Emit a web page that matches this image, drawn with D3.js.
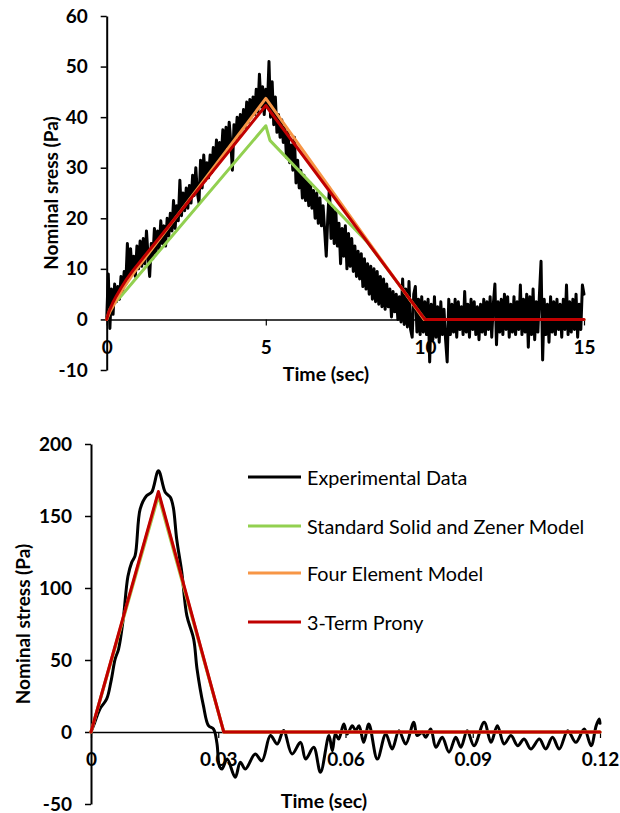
<!DOCTYPE html>
<html>
<head>
<meta charset="utf-8">
<script src="https://cdn.jsdelivr.net/npm/d3@7"></script>
<style>
  html, body { margin: 0; padding: 0; background: #fff; }
  svg { display: block; }
  text { font-family: Lato, "Open Sans", sans-serif; fill: #000; }
</style>
</head>
<body>
<svg id="chart" width="620" height="813"></svg>
<script>
// ---------- DATA ----------
// Top chart: experimental stress, sampled every 0.05 s from 0 to 15 s
const topExpStep = 0.05;
const topExpStress = [
  0, 9.0, -1.8, 6.0, 1.0, 7.0, 3.5, 6.5, 4.0, 8.5,
  5.5, 9.5, 7.0, 15.0, 8.0, 14.0, 9.0, 12.5, 8.5, 14.5,
  10.0, 15.5, 10.5, 16.0, 11.0, 17.5, 12.5, 8.5, 15.0, 12.0,
  18.0, 13.0, 17.5, 14.0, 19.5, 15.0, 18.5, 14.5, 20.0, 16.5,
  21.0, 17.5, 23.5, 18.0, 22.5, 19.5, 27.5, 20.5, 25.0, 21.5,
  26.0, 22.0, 26.5, 23.0, 28.5, 24.5, 30.0, 25.0, 23.0, 31.5,
  26.0, 32.5, 27.5, 31.0, 28.0, 32.5, 29.0, 34.0, 30.0, 35.5,
  31.0, 35.0, 32.0, 37.5, 33.0, 38.0, 34.0, 39.0, 35.0, 29.5,
  38.5, 35.5, 40.0, 36.0, 40.5, 37.5, 41.5, 38.0, 43.0, 39.0,
  43.5, 40.0, 44.0, 40.5, 45.5, 41.0, 48.5, 42.0, 46.0, 40.5,
  45.5, 42.0, 51.0, 40.0, 47.0, 38.5, 44.0, 37.0, 40.5, 36.0,
  39.5, 35.0, 38.0, 32.0, 37.0, 31.0, 34.5, 29.5, 36.0, 27.0,
  31.5, 26.0, 29.5, 24.0, 28.5, 23.5, 27.5, 22.5, 27.0, 22.0,
  25.5, 20.0, 25.0, 19.0, 24.0, 18.5, 22.5, 17.5, 12.5, 20.5,
  26.0, 16.0, 22.0, 15.0, 21.5, 14.5, 19.0, 11.0, 18.0, 12.5,
  18.5, 10.0, 17.0, 10.5, 16.0, 9.5, 14.5, 8.5, 13.5, 8.0,
  13.0, 6.5, 12.0, 6.0, 11.0, 5.0, 10.5, 4.0, 10.0, 3.5,
  9.5, 3.0, 8.5, 2.5, 8.0, 2.0, 7.0, 2.5, 6.0, 0.5,
  5.5, 1.5, 5.0, 0.0, 4.5, -0.5, 8.0, -1.0, 6.0, -1.5,
  7.5, -2.0, -3.5, 5.0, 6.5, -2.5, 4.0, -3.0, 4.5, -2.5,
  3.5, -3.0, 4.0, -8.4, 3.0, -4.0, 4.5, -3.5, 2.5, -4.5,
  3.5, -3.0, 2.0, -4.0, -8.4, 4.0, -3.0, 3.0, -2.5, 4.0,
  -3.5, 3.5, -2.0, 2.5, -3.0, 5.5, -2.5, 3.0, -3.5, 4.0,
  -2.0, 3.5, -3.0, 2.5, -4.0, 3.0, -2.5, 4.0, -3.0, 3.5,
  -2.0, 4.5, -3.5, 3.0, 7.0, -5.0, 3.5, -2.5, 4.0, -3.0,
  5.0, -2.0, 4.5, -3.5, 3.0, -2.5, 4.5, -3.0, 3.5, -2.0,
  6.8, -3.0, 4.0, -2.5, 5.0, -5.5, 4.5, -3.0, 6.0, -4.0,
  3.5, -2.5, 5.0, 11.5, -8.0, 4.0, -3.0, 3.0, -4.5, 4.5,
  -2.5, 3.5, -3.0, 4.0, -2.0, 3.0, -3.5, 4.0, -2.0, 6.8,
  -3.0, 3.5, -2.5, 4.0, -2.0, 5.0, -3.5, 3.0, -2.0, 6.8,
  5.0
];
const topSSTime      = [0, 0.1, 0.2, 0.42, 5, 5.13, 8.2, 10.0, 15];
const topSSStress    = [0, 2.0, 3.0, 4.4, 38.3, 35.4, 15.2, 0, 0];
const topFourTime    = [0, 0.1, 0.2, 0.4, 0.83, 5, 9.97, 15];
const topFourStress  = [0, 1.5, 2.6, 5.0, 9.0, 43.7, 0, 0];
const topPronyTime   = [0, 0.05, 0.1, 0.2, 0.3, 0.45, 0.6, 0.83, 5, 10.0, 15];
const topPronyStress = [0, 1.2, 2.0, 3.4, 4.6, 6.2, 7.7, 9.7, 42.3, 0, 0];
const topYTicks = [-10, 0, 10, 20, 30, 40, 50, 60];
const topXTicks = [0, 5, 10, 15];

// Bottom chart
const botExpTime = [0, 0.0008, 0.0021, 0.0037, 0.0047, 0.0057, 0.0065, 0.0076, 0.0087, 0.0096,
  0.0104, 0.0116, 0.0131, 0.0143, 0.0159, 0.0175, 0.0187, 0.0194, 0.0202, 0.0214,
  0.0226, 0.0242, 0.0250, 0.0265, 0.0277, 0.0289, 0.0297, 0.0303, 0.0309, 0.0321,
  0.0340, 0.0352, 0.0364, 0.0387, 0.0403, 0.0423, 0.0439, 0.0454, 0.0474, 0.0494,
  0.0506, 0.0525, 0.0541, 0.0561, 0.0569, 0.0576, 0.0584, 0.0596, 0.0604, 0.0616,
  0.0624, 0.0632, 0.0643, 0.0655, 0.0675, 0.0695, 0.0710, 0.0726, 0.0742, 0.0761,
  0.0769, 0.0781, 0.0789, 0.0801, 0.0813, 0.0828, 0.0844, 0.0860, 0.0872, 0.0887,
  0.0903, 0.0927, 0.0943, 0.0958, 0.0974, 0.0990, 0.1006, 0.1021, 0.1037, 0.1057,
  0.1072, 0.1088, 0.1104, 0.1124, 0.1143, 0.1163, 0.1179, 0.1191, 0.1198, 0.1200];
const botExpStress = [0, 6, 16, 23, 35, 50.7, 57.6, 78.5, 108, 117.8,
  122.5, 154.9, 164, 166.5, 181.5, 166.5, 163, 156, 134, 111,
  80.8, 64.6, 43.8, 18.3, 4.4, 2, -8, -24, -25.7, -18.8,
  -31.5, -21, -25.7, -15.3, -20, -2.5, -8.3, 1, -15.3, -7.2,
  -18.8, -10.6, -28, -2.5, -13, -1.4, -4.9, 5.5, -1.4, 4.4,
  0.9, 4.4, -7.2, 5.5, -18.8, -1.4, -11.8, 0.9, -8.3, 6.7,
  -2.5, -0.2, -3.7, 2.1, -10.6, -3.7, -14, -3.7, -10.6, 0.9,
  -9.5, 6.7, -7.2, 4.4, -8.3, -2.5, -9.5, -4.9, -11.8, -4.9,
  -11.8, -3.7, -11.8, 0.9, -7.2, 2.1, -9.5, 4.4, 9.0, 6.0];
const botSSTime      = [0, 0.0159, 0.0313, 0.12];
const botSSStress    = [0, 164, 0, 0];
const botFourTime    = [0, 0.0159, 0.0313, 0.12];
const botFourStress  = [0, 166, 0, 0];
const botPronyTime   = [0, 0.0159, 0.0313, 0.12];
const botPronyStress = [0, 167, 0, 0];
const botYTicks = [-50, 0, 50, 100, 150, 200];
const botXTicks = [0, 0.03, 0.06, 0.09, 0.12];
const botXTickLabels = ["0", "0.03", "0.06", "0.09", "0.12"];

const seriesNames = ["Experimental Data", "Standard Solid and Zener Model", "Four Element Model", "3-Term Prony"];
const seriesColors = ["#000000", "#92D050", "#F79646", "#C00000"];

// ---------- DRAW ----------
const svg = d3.select("#chart");
svg.append("rect").attr("width", 620).attr("height", 813).attr("fill", "#fff");

function zip(ts, vs) { return ts.map((t, i) => [t, vs[i]]); }

function drawChart(g, cfg) {
  const x = d3.scaleLinear().domain(cfg.xDomain).range(cfg.xRange);
  const y = d3.scaleLinear().domain(cfg.yDomain).range(cfg.yRange);

  const yAxis = d3.axisLeft(y).tickValues(cfg.yTicks).tickSize(6).tickPadding(13)
      .tickFormat(d => String(d)).tickSizeOuter(0);
  const ya = g.append("g").attr("transform", `translate(${x(0)},0)`).call(yAxis);
  ya.select(".domain").attr("stroke", "#000").attr("stroke-width", 2);
  ya.selectAll(".tick line").attr("stroke", "#000").attr("stroke-width", 1.5);
  ya.selectAll(".tick text").attr("font-size", 19).attr("font-weight", "bold").attr("font-family", "Lato").attr("fill", "#000");

  const xAxis = d3.axisBottom(x).tickValues(cfg.xTicks).tickSize(6).tickPadding(15)
      .tickFormat((d, i) => cfg.xTickLabels[i]).tickSizeOuter(0);
  const xa = g.append("g").attr("transform", `translate(0,${y(0)})`).call(xAxis);
  xa.select(".domain").attr("stroke", "#000").attr("stroke-width", 1.5);
  xa.selectAll(".tick line").attr("stroke", "#000").attr("stroke-width", 1.2);
  xa.selectAll(".tick text").attr("font-size", 19).attr("font-weight", "bold").attr("font-family", "Lato").attr("fill", "#000");

  g.append("text").attr("x", cfg.xTitle[0]).attr("y", cfg.xTitle[1]).attr("text-anchor", "middle")
    .attr("dominant-baseline", "central").attr("font-size", 19.5).attr("font-weight", "bold").text("Time (sec)");
  g.append("text").attr("transform", `translate(${cfg.yTitle[0]},${cfg.yTitle[1]}) rotate(-90)`)
    .attr("text-anchor", "middle").attr("dominant-baseline", "central")
    .attr("font-size", 19).attr("font-weight", "bold").text(cfg.yTitleText);

  const line = d3.line().x(d => x(d[0])).y(d => y(d[1]));
  cfg.series.forEach(s => {
    g.append("path")
      .attr("fill", "none").attr("stroke", s.color).attr("stroke-width", s.width)
      .attr("stroke-linejoin", "round").attr("stroke-linecap", "round")
      .attr("d", line.curve(s.curve)(s.data));
  });
}

const topExp = topExpStress.map((v, i) => [i * topExpStep, v]);

drawChart(svg.append("g"), {
  xDomain: [0, 15], xRange: [106.7, 584],
  yDomain: [-10, 60], yRange: [370, 16],
  yTicks: topYTicks, xTicks: topXTicks, xTickLabels: topXTicks.map(String),
  xTitle: [326, 373], yTitle: [50, 193], yTitleText: "Nominal sress (Pa)",
  series: [
    { data: topExp, color: seriesColors[0], width: 3, curve: d3.curveLinear },
    { data: zip(topSSTime, topSSStress), color: seriesColors[1], width: 3, curve: d3.curveLinear },
    { data: zip(topFourTime, topFourStress), color: seriesColors[2], width: 3, curve: d3.curveLinear },
    { data: zip(topPronyTime, topPronyStress), color: seriesColors[3], width: 3, curve: d3.curveLinear }
  ]
});

drawChart(svg.append("g"), {
  xDomain: [0, 0.12], xRange: [91, 600],
  yDomain: [-50, 200], yRange: [804, 444],
  yTicks: botYTicks, xTicks: botXTicks, xTickLabels: botXTickLabels,
  xTitle: [324, 800], yTitle: [22, 624], yTitleText: "Nominal stress (Pa)",
  series: [
    { data: zip(botExpTime, botExpStress), color: seriesColors[0], width: 3, curve: d3.curveCatmullRom.alpha(0.5) },
    { data: zip(botSSTime, botSSStress), color: seriesColors[1], width: 3, curve: d3.curveLinear },
    { data: zip(botFourTime, botFourStress), color: seriesColors[2], width: 3, curve: d3.curveLinear },
    { data: zip(botPronyTime, botPronyStress), color: seriesColors[3], width: 3, curve: d3.curveLinear }
  ]
});

// legend
const legendY = [477, 526, 573, 622];
const lg = svg.append("g");
seriesNames.forEach((name, i) => {
  lg.append("line").attr("x1", 248).attr("x2", 301).attr("y1", legendY[i]).attr("y2", legendY[i])
    .attr("stroke", seriesColors[i]).attr("stroke-width", 3.2);
  lg.append("text").attr("x", 307).attr("y", legendY[i]).attr("dominant-baseline", "central")
    .attr("font-size", 19.8).attr("fill", "#111").text(name);
});
</script>
</body>
</html>
